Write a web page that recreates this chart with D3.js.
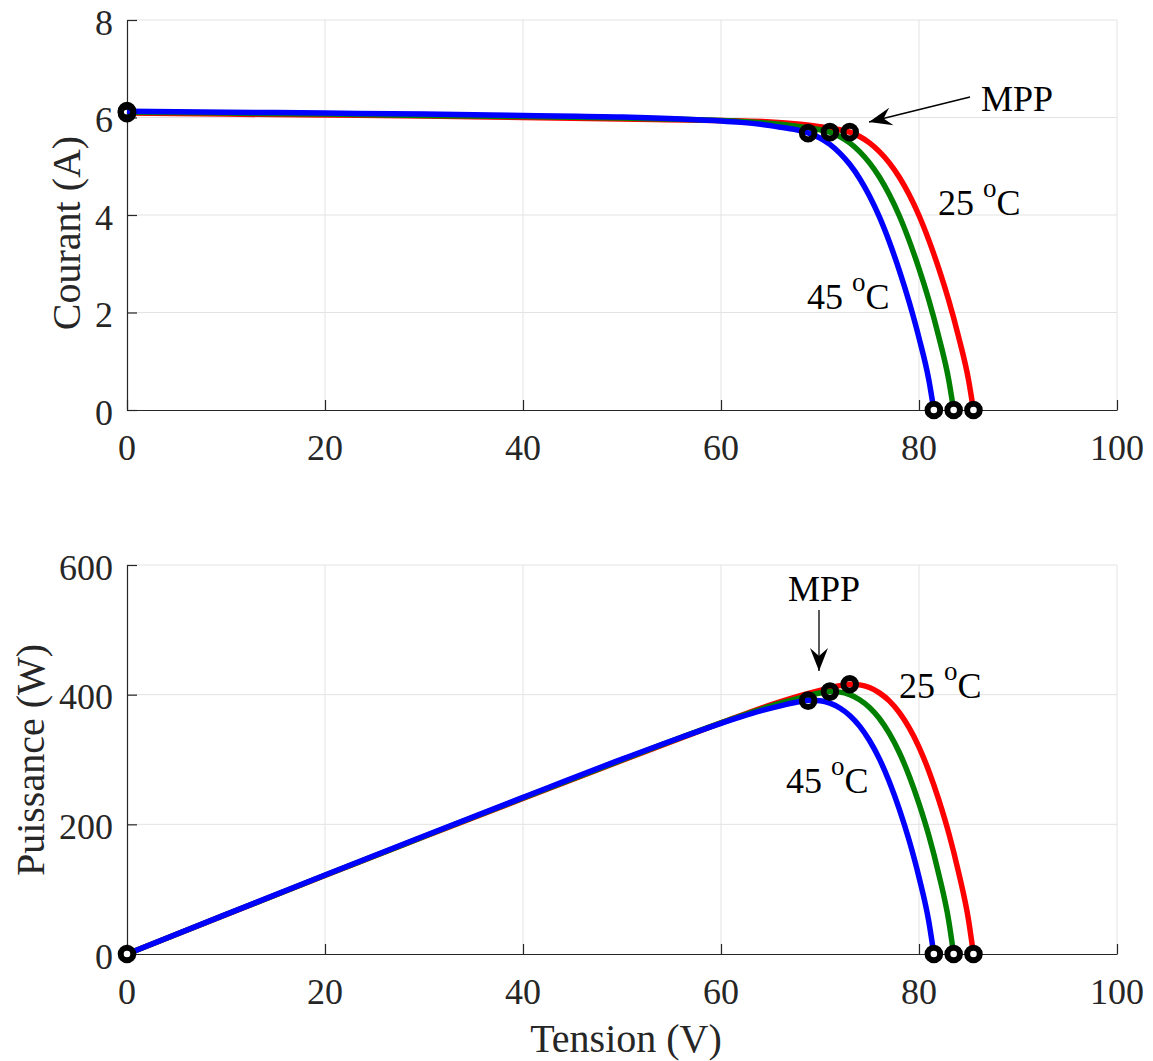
<!DOCTYPE html>
<html><head><meta charset="utf-8">
<script src="https://cdn.jsdelivr.net/npm/d3@7"></script>
<style>
html,body{margin:0;padding:0;background:#fff;}
svg text{font-family:"Liberation Serif","Times New Roman",serif;}
</style></head>
<body>
<svg id="chart" width="1153" height="1061"></svg>
<script>
// ---- Data ----
const xTicks = [0, 20, 40, 60, 80, 100];
const iTicks = [0, 2, 4, 6, 8];
const pTicks = [0, 200, 400, 600];

const seriesNames = ["25 °C", "35 °C", "45 °C"];
const seriesColors = ["#ff0000", "#008000", "#0000ff"];

const vRed   = [0,10,20,30,40,50,60,65,68,70,72,73,74,75,76,77,78,79,80,81,82,83,84,85,85.5];
const iRed   = [6.09,6.07,6.05,6.03,6.00,5.97,5.94,5.91,5.86,5.81,5.75,5.70,5.61,5.48,5.30,5.07,4.78,4.42,3.99,3.48,2.90,2.25,1.50,0.62,0];
const pRed   = [0,60.7,121.0,180.9,240.0,298.5,356.4,384.2,398.5,406.7,414.0,416.1,415.1,411.0,402.8,390.4,372.8,349.2,319.2,281.9,237.8,186.8,126.0,52.7,0];

const vGreen = [0,10,20,30,40,50,60,63,66,68,70,71,72,73,74,75,76,77,78,79,80,81,82,83,83.5];
const iGreen = [6.11,6.09,6.07,6.04,6.02,5.99,5.94,5.91,5.86,5.81,5.75,5.70,5.61,5.48,5.30,5.07,4.78,4.42,3.99,3.48,2.90,2.25,1.50,0.62,0];
const pGreen = [0,60.9,121.4,181.2,240.8,299.5,356.4,372.3,386.8,395.1,402.5,404.7,403.9,400.0,392.2,380.3,363.3,340.3,311.2,274.9,232.0,182.3,123.0,51.5,0];

const vBlue  = [0,10,20,30,40,50,56,60,62,64,66,68,69,70,71,72,73,74,75,76,77,78,79,80,81,81.5];
const iBlue  = [6.13,6.11,6.09,6.07,6.04,6.01,5.97,5.93,5.90,5.86,5.80,5.73,5.67,5.58,5.45,5.27,5.04,4.75,4.39,3.96,3.45,2.87,2.22,1.48,0.61,0];
const pBlue  = [0,61.1,121.8,182.1,241.6,300.5,334.3,355.8,365.8,375.0,382.8,389.6,391.2,390.6,387.0,379.4,367.9,351.5,329.3,301.0,265.7,223.9,175.4,118.4,49.4,0];

const mppV = [73, 71, 68.8];
const mppI = [5.70, 5.70, 5.68];
const mppP = [416.1, 404.7, 390.8];
const vocV = [85.5, 83.5, 81.5];
const iscI = [6.09, 6.11, 6.13];

// ---- Drawing ----
const svg = d3.select("#chart");
const FONT = 36;
const AXIS_COLOR = "#262626";
const GRID_COLOR = "#e3e3e3";

const x = d3.scaleLinear().domain([0, 100]).range([127, 1117]);
const yI = d3.scaleLinear().domain([0, 8]).range([410, 20]);
const yP = d3.scaleLinear().domain([0, 600]).range([954, 565]);

const seriesV = [vRed, vGreen, vBlue];
const seriesI = [iRed, iGreen, iBlue];
const seriesP = [pRed, pGreen, pBlue];

svg.append("defs").append("marker")
  .attr("id", "ah").attr("viewBox", "-24 -10 26 20")
  .attr("refX", 0).attr("refY", 0)
  .attr("markerWidth", 26).attr("markerHeight", 20)
  .attr("markerUnits", "userSpaceOnUse").attr("orient", "auto")
  .append("path").attr("d", "M0,0 L-23,-9 L-15,0 L-23,9 Z").attr("fill", "#000");

function panel(y, yTicks, values, ml, mx, mb, yLabel, yLabelX, yLabelY) {
  const g = svg.append("g");
  const [x0, x1] = x.range();
  const [yb, yt] = y.range();
  // grid
  g.selectAll(".gx").data(xTicks.filter(d => d !== 0)).join("line")
    .attr("x1", d => x(d)).attr("x2", d => x(d)).attr("y1", yb).attr("y2", yt)
    .attr("stroke", GRID_COLOR).attr("stroke-width", 1);
  g.selectAll(".gy").data(yTicks.filter(d => d !== 0)).join("line")
    .attr("x1", x0).attr("x2", x1).attr("y1", d => y(d)).attr("y2", d => y(d))
    .attr("stroke", GRID_COLOR).attr("stroke-width", 1);

  // axes (inward ticks)
  const xa = g.append("g").attr("transform", `translate(0,${yb})`)
    .call(d3.axisBottom(x).tickValues(xTicks).tickSizeInner(-10).tickSizeOuter(0).tickPadding(0).tickFormat(""));
  const ya = g.append("g").attr("transform", `translate(${x0},0)`)
    .call(d3.axisLeft(y).tickValues(yTicks).tickSizeInner(-10).tickSizeOuter(0).tickPadding(0).tickFormat(""));
  [xa, ya].forEach(a => {
    a.select(".domain").attr("stroke", AXIS_COLOR).attr("stroke-width", 1.2);
    a.selectAll(".tick line").attr("stroke", AXIS_COLOR).attr("stroke-width", 1.2);
  });
  // tick labels
  g.selectAll(".xl").data(xTicks).join("text")
    .attr("x", d => x(d)).attr("y", yb + 37).attr("dy", "0.35em")
    .attr("text-anchor", "middle").attr("font-size", FONT).attr("fill", AXIS_COLOR)
    .text(d => d);
  g.selectAll(".yl").data(yTicks).join("text")
    .attr("x", x0 - 14).attr("y", d => y(d) + 2).attr("dy", "0.35em")
    .attr("text-anchor", "end").attr("font-size", FONT).attr("fill", AXIS_COLOR)
    .text(d => d);
  // y label
  g.append("text")
    .attr("transform", `translate(${yLabelX},${yLabelY}) rotate(-90)`)
    .attr("text-anchor", "middle").attr("dy", "0.35em")
    .attr("font-size", 40).attr("fill", AXIS_COLOR).text(yLabel);

  // curves
  const line = d3.line().x(d => x(d[0])).y(d => y(d[1])).curve(d3.curveMonotoneX);
  seriesV.forEach((vs, k) => {
    const pts = vs.map((v, j) => [v, values[k][j]]);
    g.append("path").datum(pts).attr("d", line)
      .attr("fill", "none").attr("stroke", seriesColors[k])
      .attr("stroke-width", 5.5).attr("stroke-linejoin", "round").attr("stroke-linecap", "butt");
  });
  // markers
  const ring = (cx, cy, fill) => g.append("circle").attr("cx", cx).attr("cy", cy).attr("r", 6.3)
    .attr("fill", fill).attr("stroke", "#000").attr("stroke-width", 6);
  vocV.forEach(v => ring(x(v), y(0), "#fff"));
  ml.forEach((v, k) => ring(x(v), y(mx[k]), "none"));
  mb.forEach(p => ring(x(p[0]), y(p[1]), p[2]));
  return g;
}

panel(yI, iTicks, seriesI, mppV, mppI, iscI.map(i => [0, i, "none"]), "Courant (A)", 66, 233);
panel(yP, pTicks, seriesP, mppV, mppP, [[0, 0, "#fff"]], "Puissance (W)", 30, 760);

// x label
svg.append("text").attr("x", 626).attr("y", 1052).attr("text-anchor", "middle")
  .attr("font-size", 40).attr("fill", AXIS_COLOR).text("Tension (V)");

// annotations
function tempLabel(xp, yp, num) {
  const t = svg.append("text").attr("x", xp).attr("y", yp).attr("font-size", FONT).attr("fill", "#000");
  t.append("tspan").text(num + " ");
  t.append("tspan").attr("font-size", 27).attr("dy", -18).text("o");
  t.append("tspan").attr("dy", 18).text("C");
}
svg.append("text").attr("x", 981).attr("y", 111).attr("font-size", FONT).attr("fill", "#000").text("MPP");
svg.append("line").attr("x1", 970).attr("y1", 97).attr("x2", 869).attr("y2", 122)
  .attr("stroke", "#000").attr("stroke-width", 1.3).attr("marker-end", "url(#ah)");
tempLabel(938, 215, "25");
tempLabel(807, 309, "45");

svg.append("text").attr("x", 824).attr("y", 601).attr("text-anchor", "middle").attr("font-size", FONT).attr("fill", "#000").text("MPP");
svg.append("line").attr("x1", 819).attr("y1", 610).attr("x2", 819).attr("y2", 671)
  .attr("stroke", "#000").attr("stroke-width", 1.3).attr("marker-end", "url(#ah)");
tempLabel(899, 698, "25");
tempLabel(786, 793, "45");
</script>
</body></html>
